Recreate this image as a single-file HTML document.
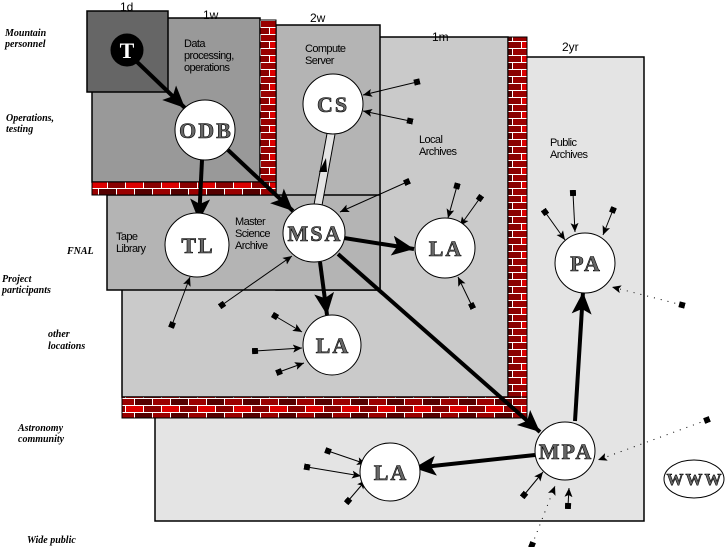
<!DOCTYPE html>
<html><head><meta charset="utf-8"><style>
html,body{margin:0;padding:0;background:#fff;width:726px;height:547px;overflow:hidden}
svg{display:block}
.lbl{font-family:"Liberation Serif",serif;font-style:italic;font-weight:bold;font-size:10px;fill:#000}
.sm{font-family:"Liberation Sans",sans-serif;font-size:11px;fill:#000;letter-spacing:-0.6px}
.nd{font-family:"Liberation Serif",serif;font-weight:bold;font-size:22px;fill:#666;stroke:#000;stroke-width:0.6;letter-spacing:2px}
</style></head><body>
<svg width="726" height="547" viewBox="0 0 726 547" xmlns="http://www.w3.org/2000/svg">
<defs>
<pattern id="brick" x="0" y="0" width="36" height="14" patternUnits="userSpaceOnUse">
<rect width="36" height="14" fill="#fff"/>
<rect x="0" y="0" width="17" height="6" fill="#8a0000"/>
<rect x="18" y="0" width="17" height="6" fill="#dd0000"/>
<rect x="-9" y="7" width="17" height="6" fill="#550000"/>
<rect x="9" y="7" width="17" height="6" fill="#9a0000"/>
<rect x="27" y="7" width="17" height="6" fill="#550000"/>
</pattern>
<marker id="big" markerUnits="userSpaceOnUse" markerWidth="26" markerHeight="22" refX="22" refY="10" orient="auto"><path d="M0,0 L22,10 L0,20 L5,10 Z" fill="#000"/></marker>
<marker id="sa" markerUnits="userSpaceOnUse" markerWidth="12" markerHeight="10" refX="9" refY="4" orient="auto"><path d="M0,0 L9,4 L0,8 L2,4Z" fill="#000"/></marker>
<marker id="sq" markerUnits="userSpaceOnUse" markerWidth="8" markerHeight="8" refX="3" refY="3" orient="auto"><rect width="6" height="6" fill="#000"/></marker>
</defs>

<!-- 2yr -->
<rect x="155" y="57" width="489" height="464" fill="#e4e4e4" stroke="#000" stroke-width="1.5"/>
<!-- 1m -->
<rect x="122" y="37" width="386" height="360" fill="#cacaca" stroke="#000" stroke-width="1.5"/>
<rect x="508" y="37" width="19" height="381" fill="url(#brick)" stroke="#000"/>
<rect x="122" y="397" width="405" height="21" fill="url(#brick)" stroke="#000"/>
<!-- 2w -->
<rect x="276" y="25" width="104" height="265" fill="#b4b4b4" stroke="#000" stroke-width="1.5"/>
<rect x="107" y="195" width="273" height="95" fill="#b4b4b4" stroke="#000" stroke-width="1.5"/>
<!-- 1w -->
<rect x="92" y="18" width="168" height="164" fill="#999" stroke="#000" stroke-width="1.5"/>
<rect x="260" y="20" width="16" height="175" fill="url(#brick)" stroke="#000"/>
<rect x="92" y="182" width="184" height="13" fill="url(#brick)" stroke="#000"/>
<!-- 1d -->
<rect x="87" y="11" width="81" height="81" fill="#666" stroke="#000" stroke-width="1.5"/>

<!-- column labels -->
<g font-family="Liberation Sans,sans-serif" font-size="12" fill="#000">
<text x="120" y="11">1d</text><text x="203" y="19">1w</text><text x="310" y="22">2w</text><text x="432" y="41">1m</text><text x="562" y="51">2yr</text>
</g>
<!-- left labels -->
<text class="lbl" x="5" y="36">Mountain</text><text class="lbl" x="5" y="47">personnel</text>
<text class="lbl" x="6" y="121">Operations,</text><text class="lbl" x="6" y="132">testing</text>
<text class="lbl" x="67" y="254">FNAL</text>
<text class="lbl" x="2" y="282">Project</text><text class="lbl" x="2" y="293">participants</text>
<text class="lbl" x="48" y="337">other</text><text class="lbl" x="48" y="349">locations</text>
<text class="lbl" x="18" y="431">Astronomy</text><text class="lbl" x="18" y="442">community</text>
<text class="lbl" x="27" y="543">Wide public</text>
<!-- box texts -->
<text class="sm" x="184" y="47">Data</text><text class="sm" x="184" y="59">processing,</text><text class="sm" x="184" y="71">operations</text>
<text class="sm" x="305" y="52">Compute</text><text class="sm" x="305" y="64">Server</text>
<text class="sm" x="419" y="143">Local</text><text class="sm" x="419" y="155">Archives</text>
<text class="sm" x="550" y="146">Public</text><text class="sm" x="550" y="158">Archives</text>
<text class="sm" x="116" y="240">Tape</text><text class="sm" x="116" y="252">Library</text>
<text class="sm" x="235" y="225">Master</text><text class="sm" x="235" y="237">Science</text><text class="sm" x="235" y="249">Archive</text>

<!-- CS-MSA light link -->
<line x1="318" y1="205" x2="331" y2="134" stroke="#000" stroke-width="9"/>
<line x1="318" y1="205" x2="331" y2="134" stroke="#e4e4e4" stroke-width="7"/>
<path d="M319,172 L326,158 L327,172 Z" fill="#000"/>

<!-- thick arrows -->
<g stroke="#000" stroke-width="4" fill="none" marker-end="url(#big)">
<line x1="135" y1="60" x2="185" y2="108"/>
<line x1="202" y1="160" x2="199" y2="221"/>
<line x1="228" y1="150" x2="293" y2="211"/>
<line x1="344" y1="238" x2="414" y2="249"/>
<line x1="320" y1="262" x2="327" y2="315"/>
<line x1="338" y1="254" x2="540" y2="432"/>
<line x1="575" y1="421" x2="583" y2="292"/>
<line x1="535" y1="455" x2="414" y2="468"/>
</g>

<!-- thin arrows -->
<g stroke="#000" stroke-width="1" fill="none" marker-end="url(#sa)" marker-start="url(#sq)">
<line x1="417" y1="82" x2="363" y2="95"/>
<line x1="410" y1="121" x2="363" y2="111"/>
<line x1="407" y1="182" x2="340" y2="212"/>
<line x1="222" y1="305" x2="292" y2="256"/>
<line x1="172" y1="325" x2="190" y2="277"/>
<line x1="457" y1="186" x2="448" y2="218"/>
<line x1="480" y1="198" x2="460" y2="226"/>
<line x1="472" y1="306" x2="458" y2="277"/>
<line x1="275" y1="316" x2="302" y2="332"/>
<line x1="255" y1="351" x2="302" y2="348"/>
<line x1="279" y1="372" x2="304" y2="363"/>
<line x1="545" y1="212" x2="565" y2="240"/>
<line x1="573" y1="193" x2="575" y2="232"/>
<line x1="613" y1="210" x2="603" y2="235"/>
<line x1="568" y1="506" x2="569" y2="488"/>
<line x1="524" y1="495" x2="543" y2="472"/>
<line x1="328" y1="451" x2="366" y2="464"/>
<line x1="307" y1="467" x2="361" y2="476"/>
<line x1="348" y1="501" x2="366" y2="480"/>
</g>
<g stroke="#000" stroke-width="1" fill="none" stroke-dasharray="1,6" marker-end="url(#sa)" marker-start="url(#sq)">
<line x1="682" y1="305" x2="612" y2="287"/>
<line x1="707" y1="420" x2="598" y2="460"/>
<line x1="532" y1="545" x2="555" y2="486"/>
</g>

<!-- nodes -->
<g stroke="#000" stroke-width="1" fill="#fff">
<circle cx="127" cy="50" r="16" fill="#000"/>
<circle cx="205" cy="130" r="30"/>
<circle cx="333" cy="104" r="30"/>
<circle cx="197" cy="245" r="32"/>
<ellipse cx="314" cy="233" rx="31" ry="29"/>
<circle cx="445" cy="248" r="30"/>
<ellipse cx="332" cy="345" rx="29" ry="30"/>
<circle cx="585" cy="263" r="30"/>
<ellipse cx="565" cy="451" rx="30" ry="29"/>
<ellipse cx="390" cy="472" rx="30" ry="29"/>
<ellipse cx="694" cy="479" rx="30" ry="19"/>
</g>
<text x="127" y="58" font-family="Liberation Serif,serif" font-weight="bold" font-size="22" fill="#fff" text-anchor="middle">T</text>
<g class="nd" text-anchor="middle">
<text class="nd" x="206" y="138">ODB</text>
<text class="nd" x="333" y="112">CS</text>
<text class="nd" x="198" y="253">TL</text>
<text class="nd" x="315" y="241">MSA</text>
<text class="nd" x="446" y="256">LA</text>
<text class="nd" x="333" y="353">LA</text>
<text class="nd" x="586" y="271">PA</text>
<text class="nd" x="566" y="459">MPA</text>
<text class="nd" x="391" y="480">LA</text>
<text class="nd" x="695" y="485" style="font-size:17px">WWW</text>
</g>
</svg>
</body></html>
